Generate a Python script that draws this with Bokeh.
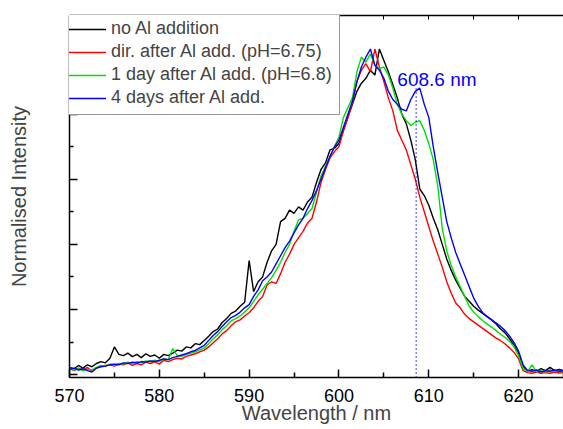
from bokeh.plotting import figure
from bokeh.models import Range1d, LinearAxis, FixedTicker, Legend, LegendItem
from bokeh.core.properties import value
from bokeh.embed import file_html
from bokeh.resources import INLINE

wavelength = [570.0 + 0.5 * i for i in range(111)]

no_al = [
    0.022, 0.018, 0.028, 0.020, 0.030, 0.024, 0.034, 0.040, 0.036, 0.050,
    0.085, 0.062, 0.058, 0.066, 0.055, 0.062, 0.052, 0.064, 0.056, 0.060,
    0.050, 0.062, 0.058, 0.066, 0.075, 0.072, 0.085, 0.082, 0.095, 0.092,
    0.105, 0.118, 0.132, 0.140, 0.160, 0.172, 0.188, 0.195, 0.210, 0.222,
    0.350, 0.255, 0.285, 0.300, 0.345, 0.380, 0.400, 0.470, 0.480, 0.505,
    0.495, 0.515, 0.505, 0.530, 0.545, 0.590, 0.630, 0.650, 0.690, 0.695,
    0.710, 0.750, 0.790, 0.830, 0.870, 0.895, 0.910, 0.935, 0.920, 1.000,
    0.965, 0.930, 0.890, 0.850, 0.800, 0.770, 0.720, 0.660, 0.570, 0.550,
    0.520, 0.480, 0.445, 0.400, 0.355, 0.320, 0.290, 0.265, 0.240, 0.225,
    0.210, 0.198, 0.188, 0.178, 0.168, 0.155, 0.140, 0.128, 0.110, 0.090,
    0.065, 0.025, 0.012, 0.015, 0.010, 0.018, 0.012, 0.022, 0.012, 0.016,
    0.012,
]

direct = [
    0.018, 0.012, 0.020, 0.014, 0.022, 0.010, 0.020, 0.025, 0.028, 0.030,
    0.026, 0.032, 0.030, 0.036, 0.028, 0.034, 0.030, 0.038, 0.034, 0.040,
    0.032, 0.044, 0.040, 0.046, 0.050, 0.048, 0.056, 0.060, 0.064, 0.070,
    0.075, 0.085, 0.098, 0.110, 0.125, 0.135, 0.150, 0.162, 0.168, 0.180,
    0.190, 0.205, 0.225, 0.240, 0.275, 0.285, 0.280, 0.310, 0.345, 0.370,
    0.400, 0.420, 0.440, 0.465, 0.480, 0.530, 0.590, 0.630, 0.665, 0.685,
    0.700, 0.750, 0.790, 0.835, 0.900, 0.935, 0.955, 0.930, 1.000, 0.945,
    0.900, 0.850, 0.810, 0.750, 0.720, 0.690, 0.645, 0.600, 0.545, 0.500,
    0.455, 0.410, 0.370, 0.330, 0.285, 0.250, 0.220, 0.205, 0.185, 0.172,
    0.162, 0.152, 0.142, 0.132, 0.122, 0.112, 0.104, 0.094, 0.082, 0.068,
    0.048, 0.012, 0.006, 0.004, 0.008, 0.004, 0.006, 0.004, 0.008, 0.005,
    0.006,
]

one_day = [
    0.020, 0.014, 0.018, 0.012, 0.016, 0.014, 0.022, 0.028, 0.026, 0.032,
    0.030, 0.034, 0.032, 0.038, 0.034, 0.040, 0.036, 0.042, 0.040, 0.044,
    0.040, 0.048, 0.046, 0.080, 0.058, 0.056, 0.062, 0.066, 0.070, 0.076,
    0.082, 0.095, 0.110, 0.122, 0.138, 0.150, 0.165, 0.172, 0.180, 0.192,
    0.205, 0.225, 0.245, 0.262, 0.280, 0.298, 0.320, 0.345, 0.375, 0.400,
    0.440, 0.475, 0.480, 0.495, 0.510, 0.560, 0.610, 0.640, 0.670, 0.700,
    0.730, 0.790, 0.820, 0.850, 0.930, 0.975, 0.960, 0.985, 0.950, 0.940,
    0.945, 0.920, 0.880, 0.830, 0.800, 0.780, 0.765, 0.775, 0.780, 0.750,
    0.710, 0.660, 0.580, 0.450, 0.380, 0.335, 0.300, 0.270, 0.240, 0.210,
    0.192, 0.178, 0.166, 0.155, 0.146, 0.135, 0.124, 0.114, 0.102, 0.085,
    0.058, 0.018, 0.010, 0.030, 0.008, 0.012, 0.008, 0.014, 0.010, 0.012,
    0.008,
]

four_days = [
    0.016, 0.020, 0.014, 0.018, 0.012, 0.008, 0.020, 0.024, 0.026, 0.030,
    0.032, 0.030, 0.036, 0.034, 0.038, 0.036, 0.040, 0.038, 0.042, 0.040,
    0.044, 0.048, 0.046, 0.052, 0.056, 0.060, 0.064, 0.070, 0.074, 0.082,
    0.090, 0.105, 0.120, 0.132, 0.148, 0.162, 0.175, 0.182, 0.192, 0.205,
    0.215, 0.240, 0.260, 0.288, 0.300, 0.315, 0.340, 0.365, 0.390, 0.410,
    0.435, 0.460, 0.480, 0.510, 0.535, 0.565, 0.600, 0.635, 0.670, 0.700,
    0.720, 0.760, 0.800, 0.840, 0.900, 0.945, 0.975, 1.000, 0.950, 0.935,
    0.910, 0.870, 0.845, 0.830, 0.815, 0.810, 0.845, 0.870, 0.880, 0.830,
    0.790, 0.700, 0.620, 0.545, 0.470, 0.420, 0.375, 0.340, 0.305, 0.270,
    0.235, 0.210, 0.190, 0.178, 0.168, 0.158, 0.148, 0.135, 0.118, 0.098,
    0.072, 0.030, 0.012, 0.010, 0.014, 0.008, 0.012, 0.010, 0.014, 0.010,
    0.012,
]

series_labels = [
    "no Al addition",
    "dir. after Al add. (pH=6.75)",
    "1 day after Al add. (pH=6.8)",
    "4 days after Al add.",
]
series_colors = ["#000000", "#ff0000", "#00e000", "#0000ff"]

peak_nm = 608.6
peak_label = "608.6 nm"
peak_line_top = 0.885

x_major = [570, 580, 590, 600, 610, 620]
x_minor = [575, 585, 595, 605, 615, 625]
y_major = [0.0, 0.2, 0.4, 0.6, 0.8, 1.0]
y_minor = [0.1, 0.3, 0.5, 0.7, 0.9]

FONT = "Liberation Sans"

p = figure(width=563, height=429, output_backend="svg", toolbar_location=None,
           x_range=Range1d(570, 625), y_range=Range1d(-0.009, 1.103),
           min_border_left=69, min_border_right=0, min_border_top=15,
           min_border_bottom=52, x_axis_location=None, y_axis_location=None)
p.outline_line_color = None
p.xgrid.visible = False
p.ygrid.visible = False
p.background_fill_color = "white"
p.border_fill_color = "white"

xaxis = LinearAxis(ticker=FixedTicker(ticks=x_major, minor_ticks=x_minor),
                   axis_label="Wavelength / nm")
xaxis.axis_line_width = 1.5
xaxis.major_tick_in = 8
xaxis.major_tick_out = 0
xaxis.minor_tick_in = 5
xaxis.minor_tick_out = 0
xaxis.major_tick_line_width = 1.5
xaxis.minor_tick_line_width = 1.5
xaxis.major_label_text_font = FONT
xaxis.major_label_text_font_size = "18px"
xaxis.major_label_text_color = "black"
xaxis.major_label_standoff = 11
xaxis.axis_label_text_font = FONT
xaxis.axis_label_text_font_size = "20px"
xaxis.axis_label_text_font_style = "normal"
xaxis.axis_label_standoff = -3
p.add_layout(xaxis, "below")

topaxis = LinearAxis(ticker=FixedTicker(ticks=x_major + x_minor, minor_ticks=[]))
topaxis.axis_line_width = 1.5
topaxis.major_tick_in = 4
topaxis.major_tick_out = 0
topaxis.major_label_text_font_size = "0px"
topaxis.major_label_text_color = None
topaxis.major_label_standoff = 0
p.add_layout(topaxis, "above")

yaxis = LinearAxis(ticker=FixedTicker(ticks=y_major, minor_ticks=y_minor),
                   axis_label="Normalised Intensity")
yaxis.axis_line_width = 1.5
yaxis.major_tick_in = 8
yaxis.major_tick_out = 0
yaxis.minor_tick_in = 4
yaxis.minor_tick_out = 0
yaxis.major_tick_line_width = 1.5
yaxis.minor_tick_line_width = 1.5
yaxis.major_label_text_font_size = "0px"
yaxis.major_label_text_color = None
yaxis.major_label_standoff = 0
yaxis.axis_label_text_font = FONT
yaxis.axis_label_text_font_size = "20px"
yaxis.axis_label_text_font_style = "normal"
yaxis.axis_label_standoff = 40
p.add_layout(yaxis, "left")

series = [no_al, direct, one_day, four_days]
renderers = []
for vals, col in zip(series, series_colors):
    r = p.line(wavelength, vals, line_color=col, line_width=1.4)
    renderers.append(r)

p.segment(x0=[peak_nm], y0=[-0.009], x1=[peak_nm], y1=[peak_line_top],
          line_color="#0000ff", line_width=1.5, line_dash="1 3")
p.text(x=[606.5], y=[0.905], text=[peak_label], text_color="#0000ff",
       text_font=value(FONT), text_font_size="19px", text_baseline="alphabetic")

legend = Legend(items=[LegendItem(label=lab, renderers=[r])
                       for lab, r in zip(series_labels, renderers)],
                location=(-10, 262))
legend.label_text_font = FONT
legend.label_text_font_size = "18px"
legend.glyph_width = 40
legend.glyph_height = 20
legend.label_height = 20
legend.label_width = 222
legend.label_standoff = 5
legend.spacing = 2
legend.padding = 6
legend.margin = 0
legend.border_line_color = "#333333"
legend.border_line_width = 1
legend.background_fill_color = "white"
legend.background_fill_alpha = 1.0
p.add_layout(legend)

open("out.html", "w").write(file_html(p, INLINE))
